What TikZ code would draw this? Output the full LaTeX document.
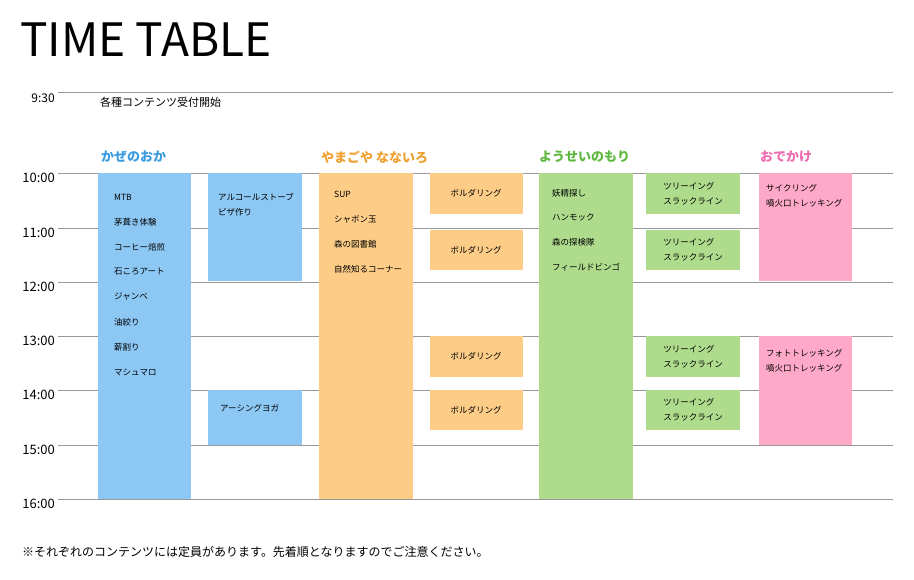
\documentclass[tikz,border=0pt]{standalone}
\usepackage{fontspec}
\setmainfont{Noto Sans CJK JP}
\definecolor{cb}{HTML}{8DC8F5}
\definecolor{co}{HTML}{FDCD88}
\definecolor{cg}{HTML}{AEDC8C}
\definecolor{cp}{HTML}{FFA9C9}
\definecolor{hb}{HTML}{3A9BE0}
\definecolor{ho}{HTML}{F0A030}
\definecolor{hg}{HTML}{5EB840}
\definecolor{hp}{HTML}{F06AB0}
\begin{document}
\begin{tikzpicture}[x=1pt,y=-1pt,
  hl/.style={draw=gray!80,line width=0.8pt},
  tm/.style={anchor=east,font=\fontsize{13}{13}\selectfont},
  it/.style={anchor=west,font=\fontsize{8.5}{10}\selectfont,inner sep=0pt},
  ic/.style={font=\fontsize{8.5}{10}\selectfont,inner sep=0pt},
  hd/.style={anchor=west,font=\fontsize{13}{13}\selectfont\bfseries,inner sep=0pt}]
\useasboundingbox (0,0) rectangle (914,579);
\node[anchor=west,inner sep=0pt,font=\fontsize{46}{46}\selectfont] (title) at (20,40) {TIME TABLE};
\draw[hl] (58,92) -- (893,92);
\node[anchor=east,font=\fontsize{12}{12}\selectfont,inner sep=0pt] (t930) at (55,98) {9:30};
\node[anchor=west,font=\fontsize{11}{11}\selectfont,inner sep=0pt] (open) at (100,102) {各種コンテンツ受付開始};
\foreach \y/\t [count=\i] in {173/10:00,228/11:00,282/12:00,336/13:00,390/14:00,445/15:00,499/16:00}{
  \draw[hl] (58,\y) -- (893,\y);
  \node[tm,inner sep=0pt] (tl\i) at (55,\y+5) {\t};
}
% headers
\node[hd,text=hb] (h1) at (101,157) {かぜのおか};
\node[hd,text=ho] (h2) at (321,157) {やまごや なないろ};
\node[hd,text=hg] (h3) at (539,157) {ようせいのもり};
\node[hd,text=hp] (h4) at (760,157) {おでかけ};
% boxes
\fill[cb] (98,173) rectangle (191,499);
\fill[cb] (208,173) rectangle (302,281);
\fill[cb] (208,390) rectangle (302,445);
\fill[co] (319,173) rectangle (413,499);
\fill[cg] (539,173) rectangle (633,499);
\foreach \a/\b in {173/214,230/270,336/377,390/430}{
  \fill[co] (430,\a) rectangle (523,\b);
  \fill[cg] (646,\a) rectangle (740,\b);
  \node[ic] at (476,{(\a+\b)/2}) {ボルダリング};
  \node[ic,align=left] at (693,{(\a+\b)/2}) {ツリーイング\\[5pt]スラックライン};
}
\fill[cp] (759,173) rectangle (852,281);
\fill[cp] (759,336) rectangle (852,445);
% items
\foreach \t [count=\i] in {MTB,茅葺き体験,コーヒー焙煎,石ころアート,ジャンベ,油絞り,薪割り,マシュマロ}
  \node[it] (b\i) at (114,{197+25*(\i-1)}) {\t};
\node[it] at (218,197) {アルコールストーブ};
\node[it] at (218,212) {ピザ作り};
\node[it] at (220,408) {アーシングヨガ};
\foreach \t [count=\i] in {SUP,シャボン玉,森の図書館,自然知るコーナー}
  \node[it] (o\i) at (334,{194+25*(\i-1)}) {\t};
\foreach \t [count=\i] in {妖精探し,ハンモック,森の探検隊,フィールドビンゴ}
  \node[it] (g\i) at (552,{193+24.6*(\i-1)}) {\t};
\node[it] at (766,188) {サイクリング};
\node[it] at (766,203) {噴火口トレッキング};
\node[it] at (766,353) {フォトトレッキング};
\node[it] at (766,368) {噴火口トレッキング};
\node[anchor=west,inner sep=0pt,font=\fontsize{12}{12}\selectfont] (foot) at (22,552) {※それぞれのコンテンツには定員があります。先着順となりますのでご注意ください。};
\end{tikzpicture}
\end{document}
